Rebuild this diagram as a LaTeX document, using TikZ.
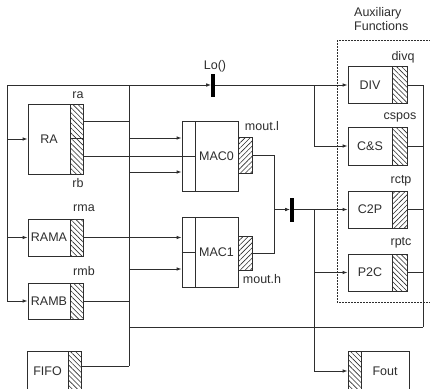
\documentclass[tikz,border=0pt]{standalone}
\usepackage{fontspec}
\setmainfont{Liberation Sans}
\usetikzlibrary{patterns.meta,arrows.meta}
\definecolor{ink}{HTML}{2E2E2E}
\tikzset{
  blk/.style={draw=ink,line width=0.9pt,rectangle,inner sep=0pt,fill=white,text=ink,font=\fontsize{12.5}{14}\selectfont},
  regnw/.style={draw=ink,line width=0.9pt,rectangle,inner sep=0pt,pattern={Lines[angle=-45,distance=3.6pt,line width=0.6pt]},pattern color=ink},
  regne/.style={draw=ink,line width=0.9pt,rectangle,inner sep=0pt,pattern={Lines[angle=45,distance=3.6pt,line width=0.6pt]},pattern color=ink},
  lbl/.style={text=ink,font=\fontsize{12.5}{14}\selectfont,inner sep=0pt},
  wire/.style={draw=ink,line width=0.9pt},
  arr/.style={wire,-{Latex[length=5pt,width=3.6pt]}},
  bar/.style={fill=black,draw=none,minimum width=3.2pt,minimum height=23pt,inner sep=0pt},
}
\begin{document}
\begin{tikzpicture}[x=1pt,y=-1pt]
\useasboundingbox (0,0) rectangle (430,388);
\clip (0,0) rectangle (430,388);
\fill[white] (0,0) rectangle (430,388);

% dashed auxiliary frame
\draw[draw=ink,line width=0.8pt,dash pattern=on 1.6pt off 1.4pt] (337,40) rectangle (434,302);
\node[lbl,align=left,anchor=west,font=\fontsize{12.5}{14}\selectfont] (auxl) at (354,19) {Auxiliary\\Functions};

% left blocks
\node[blk,minimum width=42,minimum height=70] (RA) at (49,139) {RA};
\node[regnw,minimum width=13,minimum height=34] (ra) at (76.5,121) {};
\node[regnw,minimum width=13,minimum height=36] (rb) at (76.5,156) {};
\node[lbl] (ral) at (78,95) {ra};
\node[lbl] (rbl) at (78,183) {rb};

\node[blk,minimum width=42,minimum height=37] (RAMA) at (49,237.5) {RAMA};
\node[regnw,minimum width=13,minimum height=37] (rma) at (76.5,237.5) {};
\node[lbl] (rmal) at (84,208) {rma};

\node[blk,minimum width=42,minimum height=36] (RAMB) at (49,301) {RAMB};
\node[regnw,minimum width=13,minimum height=36] (rmb) at (76.5,301) {};
\node[lbl] (rmbl) at (84,271) {rmb};

\node[blk,minimum width=41,minimum height=40] (FIFO) at (47.5,371) {FIFO};
\node[regnw,minimum width=13,minimum height=40] (fifor) at (74.5,371) {};

% MACs
\node[blk,minimum width=13,minimum height=70] (mac0in) at (188.5,156) {};
\node[blk,minimum width=43,minimum height=70] (MAC0) at (216.5,156) {MAC0};
\node[regne,minimum width=14,minimum height=36] (moutl) at (245,155) {};
\node[lbl] (moutll) at (262,126) {mout.l};

\node[blk,minimum width=13,minimum height=70] (mac1in) at (188.5,252) {};
\node[blk,minimum width=43,minimum height=70] (MAC1) at (216.5,252) {MAC1};
\node[regne,minimum width=14,minimum height=34] (mouth) at (245,253) {};
\node[lbl] (mouthl) at (262,279) {mout.h};

% bars
\node[bar] (lo) at (213,85) {};
\node[lbl] (lol) at (215,66) {Lo()};
\node[bar,minimum height=24pt] (bar2) at (292,209.5) {};

% auxiliary blocks
\node[blk,minimum width=44,minimum height=37] (DIV) at (370,85) {DIV};
\node[regnw,minimum width=15,minimum height=37] (divq) at (399.5,85) {};
\node[lbl] (divql) at (403,57) {divq};

\node[blk,minimum width=44,minimum height=38] (CS) at (370,146) {C\&S};
\node[regnw,minimum width=15,minimum height=38] (cspos) at (399.5,146) {};
\node[lbl] (csposl) at (400,117) {cspos};

\node[blk,minimum width=44,minimum height=37] (C2P) at (370,209.5) {C2P};
\node[regne,minimum width=15,minimum height=37] (rctp) at (399.5,209.5) {};
\node[lbl] (rctpl) at (401,181) {rctp};

\node[blk,minimum width=44,minimum height=37] (P2C) at (370,272.5) {P2C};
\node[regnw,minimum width=15,minimum height=37] (rptc) at (399.5,272.5) {};
\node[lbl] (rptcl) at (401,243) {rptc};

\node[regnw,minimum width=13,minimum height=40] (foutr) at (354.5,371) {};
\node[blk,minimum width=48,minimum height=40] (Fout) at (385,371) {Fout};

% coordinates
\coordinate (tl) at (7,85);
\coordinate (bt) at (129,85);
\coordinate (bb) at (129,366);
\coordinate (j) at (274,209.5);
\coordinate (j2) at (314,209.5);
\coordinate (j3) at (314,85);
\coordinate (rbot) at (423,327);

% wires
\draw[arr] (tl) -- (lo.west);
\draw[arr] (tl) |- (RA.west);
\draw[arr] (tl) |- (RAMA.west);
\draw[arr] (tl) |- (RAMB.west);
\draw[wire] (bt) -- (bb);
\draw[wire] (fifor.east |- bb) -- (bb);
\draw[wire] (ra.east) -- (ra.east -| bt);
\draw[wire] (rb.east) -- (mac0in.east |- rb.east);
\draw[arr] (bt |- 0,138) -- (mac0in.west |- 0,138);
\draw[arr] (bt |- 0,172) -- (mac0in.west |- 0,172);
\draw[arr] (rma.east) -- (mac1in.west |- rma.east);
\draw[arr] (bt |- 0,269) -- (mac1in.west |- 0,269);
\draw[wire] (mac1in.west) -- (mac1in.east);
\draw[wire] (rmb.east) -- (rmb.east -| bt);
\draw[wire] (moutl.east) -| (j);
\draw[wire] (mouth.east) -| (j);
\draw[arr] (j) -- (bar2.west);
\draw[arr] (bar2.east) -- (C2P.west);
\draw[arr] (j2) |- (P2C.west);
\draw[arr] (j2) |- (foutr.west);
\draw[arr] (lo.east) -- (DIV.west);
\draw[arr] (j3) |- (CS.west);
\draw[wire] (divq.east) -| (rbot);
\draw[wire] (cspos.east) -- (cspos.east -| rbot);
\draw[wire] (rctp.east) -- (rctp.east -| rbot);
\draw[wire] (rptc.east) -- (rptc.east -| rbot);
\draw[wire] (rbot) -- (bt |- rbot);
\end{tikzpicture}
\end{document}
